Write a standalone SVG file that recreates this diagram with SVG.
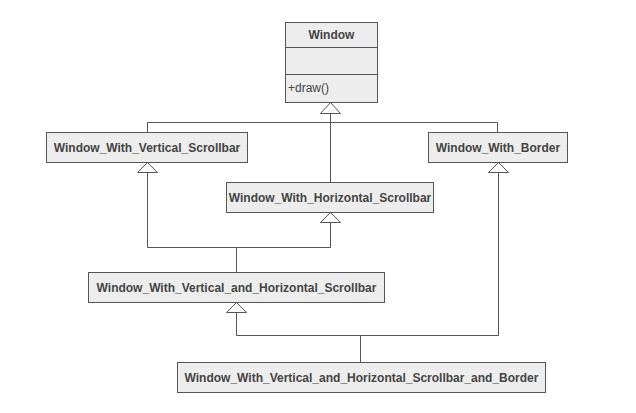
<svg xmlns="http://www.w3.org/2000/svg" width="636" height="413" viewBox="0 0 636 413">
<style>
.box{fill:#ededed;stroke:#555;stroke-width:1}
.t{font-family:"Liberation Sans",Arial,sans-serif;font-size:12px;font-weight:bold;fill:#444;text-anchor:middle}
.m{font-family:"Liberation Sans",Arial,sans-serif;font-size:12px;fill:#444}
.c{fill:none;stroke:#555;stroke-width:1}
.h{fill:#fff;stroke:#555;stroke-width:1}
</style>
<rect width="636" height="413" fill="#fff"/>
<g id="connectors">
<path class="c" d="M330.5,113.5 V182.5 M147.5,132.5 V122.5 H497.5 V132.5"/>
<path class="c" d="M147.5,172.5 V247.5 H330.5 V222.5 M236.5,247.5 V272.5"/>
<path class="c" d="M236.5,312.5 V335.5 H498.5 V172.5 M360.5,335.5 V362.5"/>
<path class="h" d="M330.5,102.5 L320.5,113.5 H340.5 Z"/>
<path class="h" d="M147.5,162.5 L137.5,172.5 H157.5 Z"/>
<path class="h" d="M330.5,212.5 L320.5,222.5 H340.5 Z"/>
<path class="h" d="M498.5,162.5 L488.5,172.5 H508.5 Z"/>
<path class="h" d="M236.5,302.5 L226.5,312.5 H246.5 Z"/>
</g>
<g id="window">
<rect class="box" x="285.5" y="22.5" width="92" height="80"/>
<line class="c" x1="285.5" y1="47.5" x2="377.5" y2="47.5"/>
<line class="c" x1="285.5" y1="74.5" x2="377.5" y2="74.5"/>
<text class="t" x="331.5" y="39">Window</text>
<text class="m" x="288" y="92">+draw()</text>
</g>
<g id="window_with_vertical_scrollbar">
<rect class="box" x="46.5" y="132.5" width="201" height="30"/>
<text class="t" x="147" y="151.5">Window_With_Vertical_Scrollbar</text>
</g>
<g id="window_with_horizontal_scrollbar">
<rect class="box" x="226.5" y="182.5" width="207" height="30"/>
<text class="t" x="330" y="201.5">Window_With_Horizontal_Scrollbar</text>
</g>
<g id="window_with_border">
<rect class="box" x="428.5" y="132.5" width="139" height="30"/>
<text class="t" x="498" y="151.5">Window_With_Border</text>
</g>
<g id="window_with_vertical_and_horizontal_scrollbar">
<rect class="box" x="88.5" y="272.5" width="296" height="30"/>
<text class="t" x="236.5" y="291.5">Window_With_Vertical_and_Horizontal_Scrollbar</text>
</g>
<g id="window_with_vertical_and_horizontal_scrollbar_and_border">
<rect class="box" x="177.5" y="362.5" width="368" height="30"/>
<text class="t" x="361.5" y="381.5">Window_With_Vertical_and_Horizontal_Scrollbar_and_Border</text>
</g>
</svg>
